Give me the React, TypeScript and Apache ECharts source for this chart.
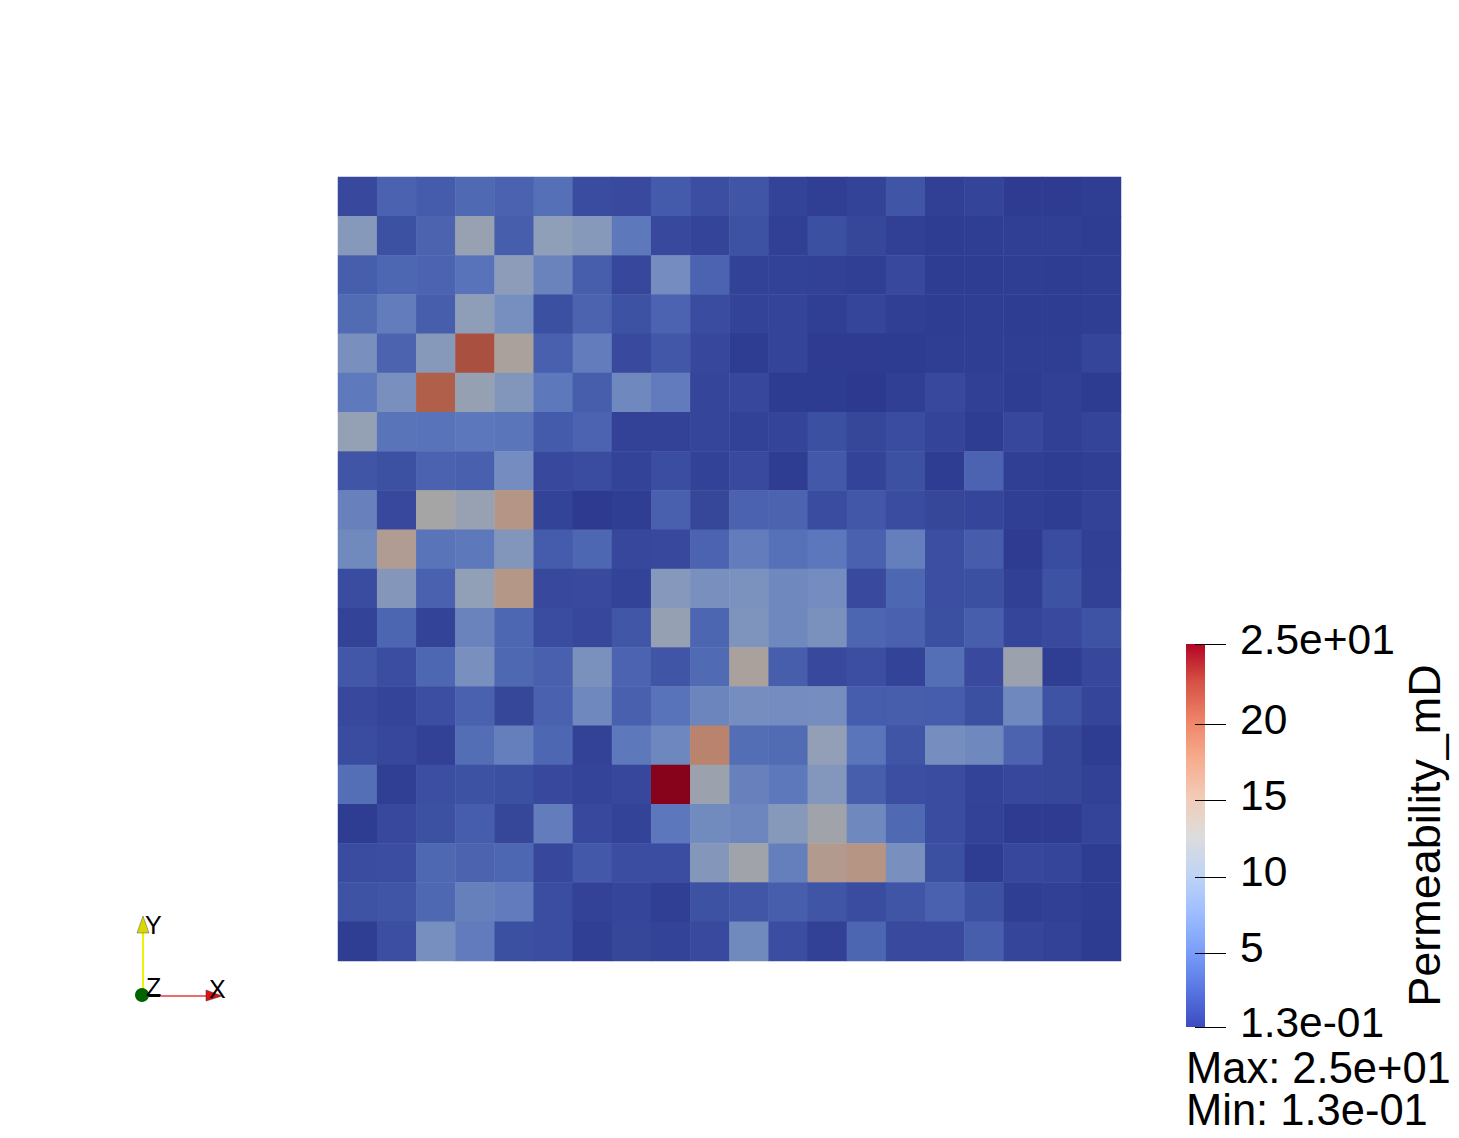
import React, { useEffect, useRef } from "react";
import * as echarts from "echarts";

const FONT = "Liberation Sans";

// Permeability in mD, top row first
const permeabilityRows: number[][] = [
  [1.4, 3.4, 2.8, 4, 3.4, 4.6, 1.6, 1.5, 2.7, 1.8, 2.3, 0.9, 0.6, 0.9, 2.3, 0.7, 1, 0.3, 0.3, 0.5],
  [9.3, 2, 3.6, 11, 3.1, 10.2, 9.3, 5.4, 1.4, 1, 2.1, 0.7, 1.9, 1.2, 0.7, 0.4, 0.5, 0.6, 0.6, 0.35],
  [3.1, 3.8, 3.5, 4.8, 9.8, 6.5, 3.1, 1.3, 7.5, 3.5, 0.8, 0.8, 0.75, 0.55, 1.4, 0.35, 0.4, 0.45, 0.35, 0.45],
  [4.2, 5.7, 3.1, 10.1, 7.8, 1.9, 3.6, 2.1, 3.5, 1.6, 0.9, 1, 0.55, 1.1, 0.55, 0.35, 0.45, 0.35, 0.35, 0.45],
  [8, 3.6, 9.3, 21.5, 13.5, 3.2, 5.7, 1.5, 2.5, 1.3, 0.35, 1, 0.3, 0.3, 0.25, 0.45, 0.45, 0.45, 0.5, 1.1],
  [5.5, 8, 20.5, 10.8, 8.8, 5.4, 3.1, 7, 5.6, 1.1, 1.3, 0.25, 0.25, 0.15, 0.55, 1.4, 0.7, 0.35, 0.65, 0.25],
  [10.7, 4.9, 4.8, 5.2, 5, 2.7, 3.5, 0.85, 0.85, 1.1, 0.8, 1, 1.9, 1.2, 1.6, 1, 0.35, 1.3, 0.65, 1],
  [2.3, 2, 3.4, 3.2, 7.5, 1.4, 1.6, 0.9, 1.7, 0.8, 1.5, 0.35, 2.6, 0.95, 2, 0.4, 3.5, 0.55, 0.35, 0.55],
  [6.3, 1.4, 12.7, 11, 15.5, 0.9, 0.2, 0.45, 3.2, 1.2, 3.4, 3.6, 1.6, 2.5, 1.6, 1.2, 1.1, 0.6, 0.35, 0.85],
  [7.2, 14.4, 4.9, 5.4, 8.8, 2.8, 3.8, 1.3, 1.4, 3.5, 5.7, 4.7, 5.2, 3.3, 6, 1.8, 3, 0.3, 1.6, 0.7],
  [1.6, 9, 3.3, 10.3, 15.3, 1.4, 1.5, 0.9, 9.2, 8, 8.2, 7, 7.5, 1.5, 3.8, 1.8, 1.9, 0.7, 2.1, 0.75],
  [0.9, 3.7, 0.9, 6.5, 3.8, 1.6, 1.3, 2.4, 10.8, 3.7, 8.6, 7, 8.1, 3.7, 3.3, 1.9, 3.1, 1.1, 1.5, 2.2],
  [2.5, 1.7, 3.8, 8, 3.9, 3.2, 8.1, 3.5, 2.3, 4.1, 13.4, 3.1, 1.4, 1.8, 0.95, 4.5, 1.5, 11.5, 0.5, 1.3],
  [1.4, 1, 1.8, 3.3, 1.2, 3.3, 7, 3.2, 4.8, 6.7, 7.7, 7.5, 7.7, 2.9, 3.1, 2.9, 1.9, 7, 2.2, 1.15],
  [1.6, 1.3, 0.75, 4.4, 6, 3.8, 0.85, 5.4, 6.9, 17.5, 4.4, 4.2, 10.4, 5, 2.3, 7.7, 7, 3.6, 1.2, 0.4],
  [4.5, 0.55, 1.8, 2.1, 1.9, 1.4, 1, 1.3, 25.3, 11.6, 6.3, 5.4, 8.9, 3.1, 1.8, 1.6, 0.95, 1.3, 1.2, 0.75],
  [0.4, 1.4, 2, 2.9, 1.2, 5.7, 1.4, 0.9, 5.2, 7.3, 6.8, 9.3, 12, 7, 4, 1.6, 0.85, 0.3, 0.3, 1],
  [1.6, 1.7, 3.9, 3.6, 3.8, 1.3, 2.6, 1.7, 1.7, 9, 12, 6, 14.8, 15.6, 8, 1.9, 0.4, 1.3, 1.1, 0.35],
  [2.2, 2.3, 3.9, 6.1, 5.6, 1.7, 0.85, 1.1, 0.55, 2.1, 2.4, 3.1, 2.3, 1.6, 2.3, 3.3, 2, 0.45, 0.65, 0.35],
  [0.5, 1.8, 7.8, 5.6, 1.9, 1.7, 0.6, 1.2, 0.95, 1.5, 7.2, 1.7, 0.75, 3.7, 1.5, 1.5, 3.1, 1.1, 0.85, 0.25],
];

const minValue = 0.13;
const maxValue = 25.3;
const tickValues = [0.13, 5, 10, 15, 20, 25.3];
const tickLabels = ["1.3e-01", "5", "10", "15", "20", "2.5e+01"];
const barTitle = "Permeability_mD";
const rangeLines = "Max: 2.5e+01\nMin: 1.3e-01";

// Cool-to-warm map as the legend shows it, and as the shaded surface shows it
const legendColors = ["#3b4cc0", "#5977e3", "#7b9ff9", "#9ebeff", "#c0d4f5", "#dddcdc", "#f2cbb7", "#f7ac8e", "#ee8468", "#d65244", "#b40426"];
const surfaceColors = ["#2c398f", "#4359aa", "#5c77bb", "#768ebf", "#909fb8", "#a6a5a5", "#b59889", "#b9816a", "#b2634e", "#a03d33", "#87031c"];

const columns = permeabilityRows[0].map((_, i) => String(i));
const rows = permeabilityRows.map((_, i) => String(i));
const cells = permeabilityRows.flatMap((row, r) => row.map((v, c) => [c, r, v]));

export default function App() {
  const ref = useRef<HTMLDivElement>(null);
  useEffect(() => {
    const chart = echarts.init(ref.current!, null, { renderer: "svg" });
    const triadText = { fontFamily: FONT, fontSize: 25, fill: "#000" };
    chart.setOption({
      animation: false,
      backgroundColor: "#fff",
      grid: [
        { left: 338, top: 177, width: 783, height: 784 },
        { left: 1186, top: 644, width: 19, height: 383 },
      ],
      xAxis: [
        { type: "category", gridIndex: 0, data: columns, show: false },
        { type: "category", gridIndex: 1, data: ["bar"], show: false },
      ],
      yAxis: [
        { type: "category", gridIndex: 0, data: rows, inverse: true, show: false },
        {
          type: "value",
          gridIndex: 1,
          position: "right",
          offset: 21,
          z: 5,
          min: minValue,
          max: maxValue,
          splitLine: { show: false },
          axisLine: { show: false },
          axisTick: { show: true, inside: true, length: 31, customValues: tickValues, lineStyle: { color: "#000", width: 1 } },
          axisLabel: {
            show: true,
            customValues: tickValues,
            formatter: (v: number) => tickLabels[tickValues.indexOf(v)] ?? "",
            fontFamily: FONT,
            fontSize: 42.5,
            color: "#000",
            margin: 14,
            verticalAlign: "bottom",
            lineHeight: 10,
          },
          name: barTitle,
          nameLocation: "middle",
          nameRotate: 90,
          nameGap: 176,
          nameTextStyle: { fontFamily: FONT, fontSize: 45, color: "#000" },
        },
      ],
      visualMap: {
        show: false,
        seriesIndex: 0,
        min: minValue,
        max: maxValue,
        dimension: 2,
        inRange: { color: surfaceColors },
      },
      series: [
        {
          type: "heatmap",
          xAxisIndex: 0,
          yAxisIndex: 0,
          data: cells,
          emphasis: { disabled: true },
        },
        {
          type: "bar",
          xAxisIndex: 1,
          yAxisIndex: 1,
          data: [maxValue],
          barWidth: "100%",
          silent: true,
          itemStyle: {
            color: new echarts.graphic.LinearGradient(
              0, 1, 0, 0,
              legendColors.map((color, i) => ({ offset: i / (legendColors.length - 1), color }))
            ),
          },
        },
      ],
      graphic: [
        { type: "text", x: 1186, y: 1047, style: { text: rangeLines, fontFamily: FONT, fontSize: 43.5, lineHeight: 42, fill: "#000" } },
        { type: "line", shape: { x1: 143, y1: 995, x2: 143, y2: 930 }, style: { stroke: "#f2f200", lineWidth: 2 } },
        { type: "polygon", shape: { points: [[143, 916], [149, 933], [137, 933]] }, style: { fill: "#d9d900", stroke: "#555", lineWidth: 0.5 } },
        { type: "line", shape: { x1: 148, y1: 996, x2: 160, y2: 996 }, style: { stroke: "#000", lineWidth: 2 } },
        { type: "line", shape: { x1: 160, y1: 996, x2: 207, y2: 996 }, style: { stroke: "#e83a3a", lineWidth: 1.5 } },
        { type: "polygon", shape: { points: [[222, 996], [206, 990], [206, 1001]] }, style: { fill: "#e01010", stroke: "#333", lineWidth: 0.5 } },
        { type: "circle", shape: { cx: 142, cy: 995, r: 7 }, style: { fill: "#006400" } },
        { type: "text", x: 145, y: 912, style: { text: "Y", ...triadText } },
        { type: "text", x: 146, y: 974, style: { text: "Z", ...triadText } },
        { type: "text", x: 209, y: 976, style: { text: "X", ...triadText } },
      ],
    });
    return () => chart.dispose();
  }, []);
  return <div ref={ref} style={{ position: "absolute", left: 0, top: 0, width: 1459, height: 1138 }} />;
}
